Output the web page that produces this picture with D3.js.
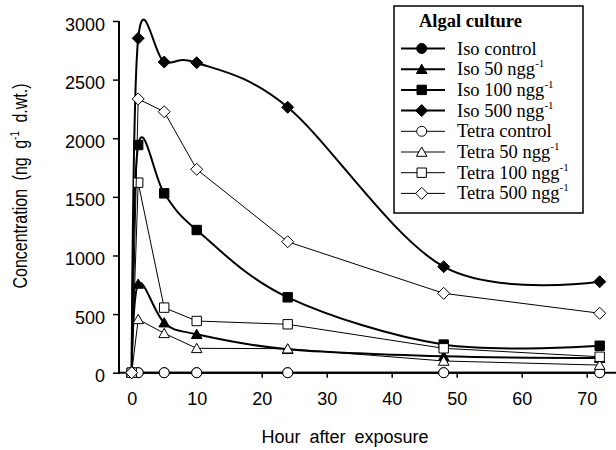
<!DOCTYPE html>
<html lang="en">
<head>
    <meta charset="UTF-8">
    <title>Algal culture concentration</title>
    <script type="text/javascript" src="https://cdn.jsdelivr.net/npm/d3@7/dist/d3.min.js"></script>
    <style type="text/css">
        body { margin: 0; background: #fff; }
        .tick text { font-family: "Liberation Sans", Arial, sans-serif; font-size: 18px; fill: #000; }
        .tick line { stroke: #000; stroke-width: 1.5; }
        .serif { font-family: "Liberation Serif", "Times New Roman", "DejaVu Serif", serif; }
    </style>
</head>
<body>
    <script type="text/javascript">
        //Width and height
        var w = 616;
        var h = 450;

        //Data (hours after exposure, concentration ng/g d.wt.)
        var hours = [0, 1, 5, 10, 24, 48, 72];
        var isoControl = [0, 0, 0, 0, 0, 0, 0];
        var iso50 = [0, 757, 427, 328, 200, 140, 125];
        var iso100 = [0, 1942, 1530, 1217, 643, 240, 230];
        var iso500 = [0, 2852, 2650, 2644, 2264, 904, 776];
        var tetraControl = [0, 0, 0, 0, 0, 0, 0];
        var tetra50 = [0, 455, 336, 208, 205, 100, 65];
        var tetra100 = [0, 1621, 555, 441, 413, 208, 136];
        var tetra500 = [0, 2335, 2226, 1735, 1117, 677, 507];

        var seriesLabels = ["Iso control", "Iso 50 ngg", "Iso 100 ngg", "Iso 500 ngg",
            "Tetra control", "Tetra 50 ngg", "Tetra 100 ngg", "Tetra 500 ngg"];
        var seriesSup = ["", "-1", "-1", "-1", "", "-1", "-1", "-1"];
        var seriesValues = [isoControl, iso50, iso100, iso500,
            tetraControl, tetra50, tetra100, tetra500];
        var seriesShapes = ["circle", "triangle", "square", "diamond",
            "circle", "triangle", "square", "diamond"];

        var xTicks = [0, 10, 20, 30, 40, 50, 60, 70];
        var yTicks = [0, 500, 1000, 1500, 2000, 2500, 3000];

        var series = seriesValues.map(function(vals, i) {
            return {
                label: seriesLabels[i],
                sup: seriesSup[i],
                shape: seriesShapes[i],
                iso: i < 4,
                points: vals.map(function(v, j) { return [hours[j], v]; })
            };
        });

        var xScale = d3.scaleLinear()
            .domain([0, 72])
            .range([131.7, 599.7]);

        var yScale = d3.scaleLinear()
            .domain([0, 3000])
            .range([372.7, 21]);

        //Create SVG element
        var svg = d3.select("body")
            .append("svg")
            .attr("width", w)
            .attr("height", h);

        //Axes
        var xAxis = svg.append("g")
            .attr("transform", "translate(0," + yScale(0) + ")")
            .call(d3.axisBottom(xScale).tickValues(xTicks).tickSize(5).tickPadding(14.5));
        xAxis.select(".domain").remove();
        xAxis.append("line")
            .attr("x1", 119)
            .attr("x2", w)
            .attr("stroke", "#000")
            .attr("stroke-width", 2);

        var yAxis = svg.append("g")
            .attr("transform", "translate(119,0)")
            .call(d3.axisLeft(yScale).tickValues(yTicks).tickFormat(d3.format("d"))
                .tickSize(6).tickPadding(8));
        yAxis.select(".domain").remove();
        yAxis.selectAll(".tick text").attr("dy", "0.5em");
        yAxis.append("line")
            .attr("y1", yScale(3000))
            .attr("y2", yScale(0) + 1)
            .attr("stroke", "#000")
            .attr("stroke-width", 2);

        //Axis titles
        svg.append("text")
            .attr("x", 345)
            .attr("y", 443)
            .attr("text-anchor", "middle")
            .style("font-family", "'Liberation Sans', Arial, sans-serif")
            .style("font-size", "18px")
            .style("word-spacing", "4px")
            .text("Hour after exposure");

        var yTitle = svg.append("text")
            .attr("transform", "translate(27,186) rotate(-90) scale(0.82,1)")
            .attr("text-anchor", "middle")
            .style("font-family", "'Liberation Sans', Arial, sans-serif")
            .style("font-size", "19.5px")
            .style("word-spacing", "5px");
        yTitle.append("tspan").text("Concentration (ng g");
        yTitle.append("tspan").attr("dy", -8).style("font-size", "12px").text("-1");
        yTitle.append("tspan").attr("dy", 8).text(" d.wt.)");

        //Marker shapes
        function shapePath(shape) {
            if (shape === "circle") {
                return "M5,0A5,5 0 1,1 -5,0A5,5 0 1,1 5,0Z";
            } else if (shape === "square") {
                return "M-4.7,-4.7H4.7V4.7H-4.7Z";
            } else if (shape === "triangle") {
                return "M0,-5L5.3,4.3L-5.3,4.3Z";
            }
            return "M0,-6L6,0L0,6L-6,0Z";
        }

        var smooth = d3.line()
            .x(function(d) { return xScale(d[0]); })
            .y(function(d) { return yScale(d[1]); })
            .curve(d3.curveCardinal.tension(0));

        var straight = d3.line()
            .x(function(d) { return xScale(d[0]); })
            .y(function(d) { return yScale(d[1]); });

        //Create lines and markers
        series.forEach(function(s) {
            var g = svg.append("g");
            g.append("path")
                .attr("d", s.iso ? smooth(s.points) : straight(s.points))
                .attr("fill", "none")
                .attr("stroke", "#000")
                .attr("stroke-width", s.iso ? 2 : 1);
            g.selectAll("path.mark")
                .data(s.points)
                .enter()
                .append("path")
                .attr("class", "mark")
                .attr("transform", function(d) {
                    return "translate(" + xScale(d[0]) + "," + yScale(d[1]) + ")";
                })
                .attr("d", shapePath(s.shape))
                .attr("fill", s.iso ? "#000" : "#fff")
                .attr("stroke", "#000")
                .attr("stroke-width", 1);
        });

        //Legend
        var legend = svg.append("g");
        legend.append("rect")
            .attr("x", 394)
            .attr("y", 6)
            .attr("width", 189)
            .attr("height", 207)
            .attr("fill", "#fff")
            .attr("stroke", "#000")
            .attr("stroke-width", 1.5);
        legend.append("text")
            .attr("class", "serif")
            .attr("x", 419)
            .attr("y", 27)
            .style("font-size", "18.5px")
            .style("font-weight", "bold")
            .text("Algal culture");

        var rows = legend.selectAll("g.row")
            .data(series)
            .enter()
            .append("g")
            .attr("class", "row")
            .attr("transform", function(d, i) {
                return "translate(0," + (48.5 + i * 20.7) + ")";
            });
        rows.append("line")
            .attr("x1", 401)
            .attr("x2", 445)
            .attr("stroke", "#000")
            .attr("stroke-width", function(d) { return d.iso ? 2 : 1; });
        rows.append("path")
            .attr("transform", "translate(421.7,0)")
            .attr("d", function(d) { return shapePath(d.shape); })
            .attr("fill", function(d) { return d.iso ? "#000" : "#fff"; })
            .attr("stroke", "#000");
        var labels = rows.append("text")
            .attr("class", "serif")
            .attr("x", 457)
            .attr("y", 6)
            .style("font-size", "18.5px");
        labels.append("tspan").text(function(d) { return d.label; });
        labels.append("tspan")
            .attr("dy", -8)
            .style("font-size", "11px")
            .text(function(d) { return d.sup; });
    </script>
</body>
</html>
